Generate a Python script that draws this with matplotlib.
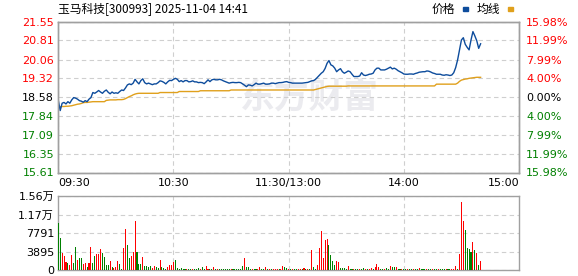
import matplotlib
matplotlib.use('Agg')
import matplotlib.pyplot as plt
from matplotlib.patches import Rectangle

# ---------------- data ----------------
title = "玉马科技[300993] 2025-11-04 14:41"
prev_close = 18.58

price = [
    18.45, 18.05, 18.34, 18.37, 18.31, 18.40, 18.34, 18.47, 18.56, 18.54,
    18.50, 18.44, 18.42, 18.38, 18.44, 18.40, 18.50, 18.56, 18.76, 18.73,
    18.78, 18.84, 18.78, 18.73, 18.81, 18.86, 18.77, 18.71, 18.78, 18.73,
    18.75, 18.73, 18.80, 18.86, 18.84, 18.94, 19.06, 19.10, 19.07, 19.13,
    19.28, 19.18, 19.10, 19.23, 19.30, 19.15, 19.10, 19.13, 19.10, 19.07,
    19.10, 19.10, 19.15, 19.22, 19.20, 19.16, 19.10, 19.18, 19.24, 19.23,
    19.28, 19.32, 19.28, 19.19, 19.23, 19.18, 19.23, 19.23, 19.18, 19.19,
    19.22, 19.18, 19.18, 19.15, 19.16, 19.15, 19.11, 19.18, 19.26, 19.19,
    19.26, 19.28, 19.26, 19.26, 19.28, 19.26, 19.22, 19.19, 19.16, 19.13,
    19.15, 19.16, 19.15, 19.15, 19.16, 19.15, 19.10, 19.05, 18.99, 19.06,
    19.05, 19.02, 19.07, 19.13, 19.09, 19.09, 19.11, 19.13, 19.09, 19.09,
    19.10, 19.13, 19.13, 19.11, 19.13, 19.15, 19.15, 19.16, 19.18, 19.19,
    19.16, 19.15, 19.13, 19.13, 19.13, 19.13, 19.13, 19.13, 19.14, 19.15,
    19.16, 19.19, 19.22, 19.23, 19.28, 19.36, 19.44, 19.52, 19.58, 19.71,
    19.91, 20.02, 19.85, 19.81, 19.72, 19.58, 19.65, 19.70, 19.58, 19.52,
    19.56, 19.61, 19.58, 19.48, 19.39, 19.39, 19.39, 19.41, 19.54, 19.45,
    19.43, 19.45, 19.48, 19.49, 19.52, 19.65, 19.72, 19.72, 19.65, 19.65,
    19.65, 19.68, 19.72, 19.76, 19.69, 19.72, 19.68, 19.62, 19.58, 19.54,
    19.49, 19.48, 19.48, 19.49, 19.49, 19.48, 19.51, 19.53, 19.56, 19.57,
    19.58, 19.58, 19.61, 19.60, 19.57, 19.53, 19.51, 19.48, 19.48, 19.48,
    19.45, 19.44, 19.46, 19.45, 19.43, 19.45, 19.54, 19.74, 20.04, 20.44,
    20.83, 20.92, 20.66, 20.54, 20.44, 20.83, 21.16, 20.99, 20.80, 20.50,
    20.68,
]

avg_price = (
    [18.20, 18.20, 18.21, 18.21, 18.22, 18.22, 18.23, 18.24]
    + [18.26, 18.28, 18.30, 18.31, 18.33]
    + [18.36, 18.37, 18.37, 18.38, 18.39]
    + [18.40] * 7
    + [18.45, 18.46, 18.47, 18.47, 18.47, 18.47, 18.48, 18.48, 18.48, 18.49]
    + [18.52, 18.56, 18.60, 18.63, 18.67, 18.70, 18.72]
    + [18.73] * 11
    + [18.76] * 10
    + [18.80] * 11
    + [18.83] * 16
    + [18.86] * 44
    + [18.88, 18.90, 18.92, 18.94, 18.96, 18.98, 19.00]
    + [19.01] * 10
    + [19.02] * 46
    + [19.09] * 11
    + [19.13, 19.20, 19.25, 19.27, 19.29, 19.30, 19.32, 19.33, 19.34,
       19.35, 19.36, 19.36, 19.36]
)

volume = [
    9970, 6800, 3650, 2950, 1750, 1540, 1050, 3160, 1540, 4900,
    2100, 2600, 2450, 1200, 1400, 700, 1540, 4900, 1540, 3000,
    3370, 3370, 4500, 3650, 2800, 1050, 1050, 1960, 700, 490,
    560, 1960, 1260, 140, 4700, 8560, 5260, 2450, 2950, 3860,
    10400, 3860, 1260, 1260, 2800, 840, 840, 560, 840, 350,
    840, 560, 350, 2100, 560, 350, 280, 560, 980, 1050,
    1680, 2100, 350, 280, 420, 210, 140, 210, 140, 210,
    140, 210, 280, 350, 210, 700, 280, 840, 280, 210,
    140, 560, 140, 210, 140, 210, 140, 210, 140, 210,
    140, 210, 140, 210, 140, 280, 840, 2600, 700, 560,
    280, 210, 210, 140, 280, 700, 210, 140, 560, 210,
    140, 210, 140, 210, 140, 210, 280, 840, 560, 420,
    210, 140, 210, 140, 210, 140, 210, 140, 490, 210,
    140, 210, 4200, 700, 150, 1050, 4700, 8200, 2450, 6300,
    6600, 5260, 3160, 1900, 1050, 1900, 1680, 490, 490, 490,
    280, 840, 210, 140, 210, 140, 210, 140, 210, 420,
    140, 210, 140, 420, 210, 560, 1260, 700, 210, 140,
    210, 490, 140, 840, 700, 560, 560, 210, 140, 210,
    140, 210, 140, 210, 140, 210, 140, 210, 420, 210,
    140, 210, 140, 210, 140, 210, 140, 210, 140, 210,
    140, 210, 140, 210, 140, 210, 280, 840, 280, 3370,
    14400, 10300, 8400, 4700, 4350, 3720, 5970, 4200, 3650, 1050,
    1900,
]

# R = up minute (red), G = down minute (green)
vol_dir = (
    "GGRRRGRRGG" "RGGRRGRRGG" "RRRGGGGRGR" "RRGGRRGGRR" "RGGGRGGGGR"
    "RGGRGGGRRR" "RGGGGGGRGG" "RGGGRGGRRG" "GRGRGGGGGG" "RGGGGGGRGG"
    "GRGGRRGGRG" "RGRRRGRRGG" "RGRGGRRGRG" "RGRGGRRRRR" "RGGGGRRGGG"
    "GRGGRGGRGG" "RGRRGRRRGG" "RGGRGGRGGR" "GGRGGRGGRG" "GGRGGRGGRG"
    "GGRGGRRRGR" "RRGGGGRGRG" "R"
)

price_ticks = [15.61, 16.35, 17.09, 17.84, 18.58, 19.32, 20.06, 20.81, 21.55]
pct_labels = ["15.98%", "11.99%", "7.99%", "4.00%", "0.00%",
              "4.00%", "7.99%", "11.99%", "15.98%"]
time_ticks = [0, 60, 120, 180, 240]
time_labels = ["09:30", "10:30", "11:30/13:00", "14:00", "15:00"]
vol_ticks = [0, 3895, 7791, 11686, 15582]
vol_labels = ["0", "3895", "7791", "1.17万", "1.56万"]

# ---------------- style ----------------
RED = "#ff0000"
GREEN = "#008000"
BLUE = "#0d4c9c"
ORANGE = "#e0a01c"
SPINE = "#a0a0a0"
GRID = "#cfcfcf"
CJK = ["Noto Sans CJK SC", "DejaVu Sans"]
NUMF = ["DejaVu Sans", "Noto Sans CJK SC"]

W, H = 578, 276
fig = plt.figure(figsize=(W / 100, H / 100), dpi=100)


def fx(px):
    return px / W


def fy(py):
    return 1 - py / H


L, R = 58.3, 519.0
ax = fig.add_axes([fx(L), fy(172.5), (R - L) / W, (172.5 - 21.7) / H])
axv = fig.add_axes([fx(L), fy(270), (R - L) / W, (270 - 196) / H])

minutes = list(range(len(price)))

# watermark
ax.text(131, 18.57, "东方财富", fontsize=25, fontweight="bold", color="#ebebef",
        family=CJK, ha="center", va="center", zorder=0.5)

ax.plot(minutes, avg_price[:len(minutes)], color=ORANGE, lw=1.0, zorder=3)
ax.plot(minutes, price, color=BLUE, lw=1.0, zorder=4)

ax.set_xlim(0, 240)
ax.set_ylim(price_ticks[0], price_ticks[-1])
ax.set_yticks(price_ticks)
ax.set_yticklabels([f"{v:.2f}" for v in price_ticks], family=NUMF, fontsize=8)
for lab, v in zip(ax.get_yticklabels(), price_ticks):
    lab.set_color(RED if v > prev_close + 1e-9 else (GREEN if v < prev_close - 1e-9 else "black"))
ax.set_xticks(time_ticks)
ax.set_xticklabels(time_labels, family=NUMF, fontsize=8)
xl = ax.get_xticklabels()
xl[0].set_ha("left")
xl[-1].set_ha("right")
ax.tick_params(axis="both", length=0)
ax.tick_params(axis="y", pad=3)
ax.tick_params(axis="x", pad=4)
ax.grid(True, ls=(0, (4, 3)), color=GRID, lw=0.8)
ax.set_axisbelow(True)

ax2 = ax.twinx()
ax2.set_ylim(price_ticks[0], price_ticks[-1])
ax2.set_yticks(price_ticks)
ax2.set_yticklabels(pct_labels, family=NUMF, fontsize=8)
for lab, v in zip(ax2.get_yticklabels(), price_ticks):
    lab.set_color(RED if v > prev_close + 1e-9 else (GREEN if v < prev_close - 1e-9 else "black"))
ax2.tick_params(axis="y", length=0, pad=5)

for a in (ax, ax2, axv):
    for s in a.spines.values():
        s.set_color(SPINE)
        s.set_linewidth(1.0)

# volume
colors = [RED if d == "R" else GREEN for d in vol_dir[:len(volume)]]
axv.bar(list(range(len(volume))), volume, width=0.55, color=colors, linewidth=0, zorder=3)
axv.set_xlim(0, 240)
axv.set_ylim(vol_ticks[0], vol_ticks[-1])
axv.set_yticks(vol_ticks)
axv.set_yticklabels(vol_labels, family=NUMF, fontsize=8)
axv.set_xticks([60, 120, 180])
axv.set_xticklabels([])
axv.tick_params(axis="both", length=0)
axv.tick_params(axis="y", pad=3)
axv.grid(True, ls=(0, (4, 3)), color=GRID, lw=0.8)
axv.set_axisbelow(True)

# title and legend
fig.text(fx(58), fy(9), title, family=CJK, fontsize=8.5, ha="left", va="center")
fig.text(fx(431.5), fy(9), "价格", family=CJK, fontsize=8.5, ha="left", va="center")
fig.text(fx(477), fy(9), "均线", family=CJK, fontsize=8.5, ha="left", va="center")
fig.add_artist(Rectangle((fx(463), fy(10.5)), 5 / W, 3 / H, color=BLUE, transform=fig.transFigure))
fig.add_artist(Rectangle((fx(508), fy(10.5)), 5 / W, 3 / H, color=ORANGE, transform=fig.transFigure))

fig.savefig("out.png", dpi=100)
